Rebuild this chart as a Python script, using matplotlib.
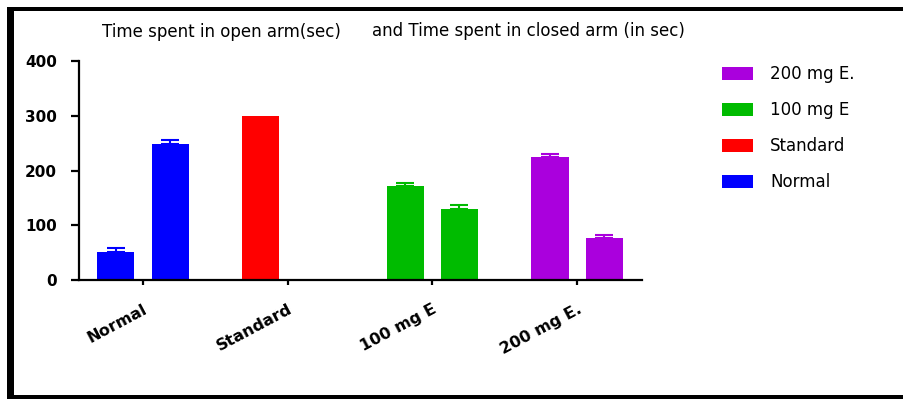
import numpy as np
import matplotlib
matplotlib.use("Agg")
import matplotlib.pyplot as plt
from matplotlib.patches import Rectangle

# Data
groups = ["Normal", "Standard", "100 mg E", "200 mg E."]
open_arm = [52, 300, 171, 224]       # time spent in open arm (sec)
open_err = [7, 0, 7, 6]
closed_arm = [249, 0, 130, 76]       # time spent in closed arm (sec)
closed_err = [7, 0, 7, 6]
colors = ["#0000FF", "#FF0000", "#00BB00", "#AA00DD"]
yticks = [0, 100, 200, 300, 400]

plt.rcParams["font.family"] = ["DejaVu Sans"]

fig = plt.figure(figsize=(9.04, 3.99), dpi=100)
ax = fig.add_axes([0.0874, 0.2982, 0.6228, 0.5489])

x = np.arange(len(groups))
off = 0.187
w = 0.256

handles = []
for i, g in enumerate(groups):
    c = colors[i]
    b = ax.bar(x[i] - off, open_arm[i], width=w, color=c, label=g, zorder=2)
    handles.append(b)
    if open_err[i] > 0:
        ax.errorbar(x[i] - off, open_arm[i], yerr=[[0], [open_err[i]]],
                    fmt="none", ecolor=c, elinewidth=1.5, capsize=6.5,
                    capthick=1.5, zorder=1)
    if closed_arm[i] > 0:
        ax.bar(x[i] + off, closed_arm[i], width=w, color=c, zorder=2)
        ax.errorbar(x[i] + off, closed_arm[i], yerr=[[0], [closed_err[i]]],
                    fmt="none", ecolor=c, elinewidth=1.5, capsize=6.5,
                    capthick=1.5, zorder=1)

ax.set_xlim(-0.442, 3.449)
ax.set_ylim(0, 400)
ax.set_yticks(yticks)
ax.set_yticklabels([str(v) for v in yticks], fontsize=11, fontweight="bold")
ax.set_xticks(x)
ax.set_xticklabels(groups, rotation=28, ha="right", rotation_mode="anchor",
                   fontsize=11.5, fontweight="bold")

for s in ["top", "right"]:
    ax.spines[s].set_visible(False)
for s in ["left", "bottom"]:
    ax.spines[s].set_linewidth(1.6)
ax.tick_params(axis="y", length=6, width=1.6, pad=10)
ax.tick_params(axis="x", length=3.5, width=1.6, pad=12)

# Titles
fig.text(0.113, 0.919, "Time spent in open arm(sec)", fontsize=12,
         ha="left", va="center")
fig.text(0.411, 0.922, "and Time spent in closed arm (in sec)", fontsize=12,
         ha="left", va="center")

# Legend (reverse order)
leg = fig.legend(handles[::-1], groups[::-1], loc="upper left",
                 bbox_to_anchor=(0.791, 0.853), frameon=False, fontsize=12,
                 handlelength=1.86, handleheight=0.8, handletextpad=1.05,
                 labelspacing=1.08, borderaxespad=0)

# Outer frame
fig.add_artist(Rectangle((7 / 904, 0), 7 / 904, 1 - 7 / 399,
                         transform=fig.transFigure, color="black", lw=0))
fig.add_artist(Rectangle((7 / 904, 1 - 10.5 / 399), 1, 3.5 / 399,
                         transform=fig.transFigure, color="black", lw=0))
fig.add_artist(Rectangle((7 / 904, 0), 1, 4.5 / 399,
                         transform=fig.transFigure, color="black", lw=0))

fig.savefig("out.png", dpi=100)
